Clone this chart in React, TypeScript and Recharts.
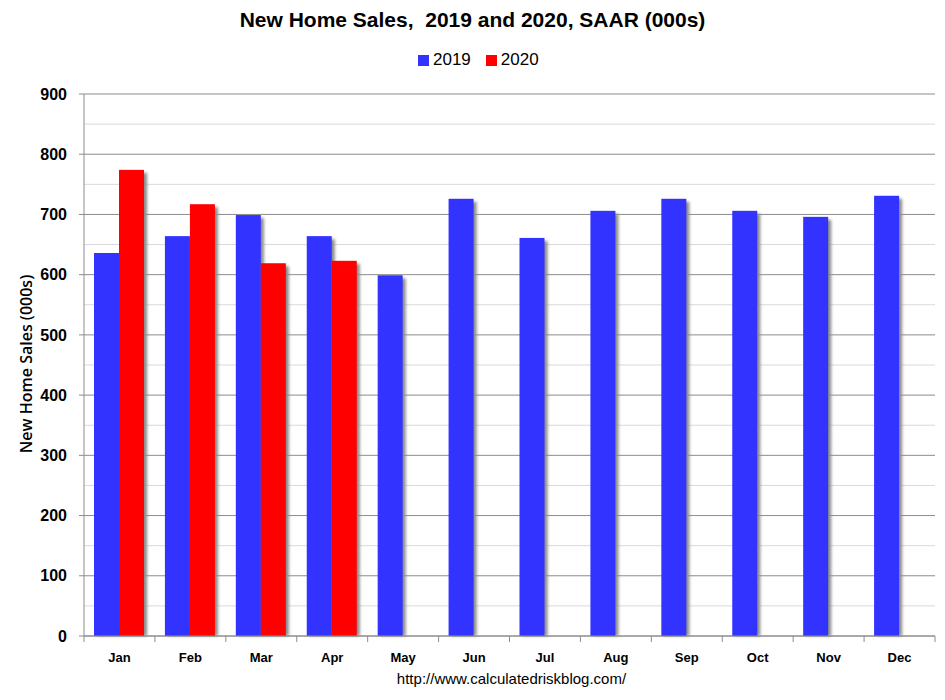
import React from 'react'
import { BarChart, Bar, XAxis, YAxis, CartesianGrid } from 'recharts'

// ---------------------------------------------------------------------------
// Data
// ---------------------------------------------------------------------------

const months = ['Jan', 'Feb', 'Mar', 'Apr', 'May', 'Jun', 'Jul', 'Aug', 'Sep', 'Oct', 'Nov', 'Dec']
const sales2019 = [636, 664, 699, 664, 599, 726, 661, 706, 726, 706, 696, 731]
const sales2020: (number | null)[] = [774, 717, 619, 623, null, null, null, null, null, null, null, null]
const majorTicks = [0, 100, 200, 300, 400, 500, 600, 700, 800, 900]
const minorTicks = [50, 150, 250, 350, 450, 550, 650, 750, 850]

const data = months.map((m, i) => ({ month: m, y2019: sales2019[i], y2020: sales2020[i] }))

// ---------------------------------------------------------------------------
// Layout
// ---------------------------------------------------------------------------

const W = 945
const H = 700
const PLOT_LEFT = 84
const PLOT_RIGHT = 935
const PLOT_TOP = 94
const PLOT_BOTTOM = 636
const X_AXIS_H = 40
const HALF_BAND = (PLOT_RIGHT - PLOT_LEFT) / months.length / 2

const BLUE = '#3333FF'
const RED = '#FF0000'
const GRID_MAJOR = '#8c8c8c'
const GRID_MINOR = '#d9d9d9'
const NARROW = '"Liberation Sans Narrow", "Liberation Sans", Arial, sans-serif'
const SANS = '"Liberation Sans", Arial, sans-serif'

// bar with the soft grey drop shadow to the right
function ShadowBar(props: any) {
  const { x, y, width, height, fill } = props
  if (height == null || !isFinite(height) || height <= 0) return null
  return (
    <g>
      <rect
        x={x + 3}
        y={y + 3}
        width={width}
        height={Math.max(0, height - 3)}
        fill="#8a8a8a"
        filter="url(#barShadow)"
      />
      <rect x={x} y={y} width={width} height={height} fill={fill} />
    </g>
  )
}

function MonthTick(props: any) {
  const { x, index, payload } = props
  const last = index === months.length - 1
  return (
    <g>
      <line x1={x - HALF_BAND} x2={x - HALF_BAND} y1={PLOT_BOTTOM} y2={PLOT_BOTTOM + 6} stroke={GRID_MAJOR} />
      {last && (
        <line x1={x + HALF_BAND} x2={x + HALF_BAND} y1={PLOT_BOTTOM} y2={PLOT_BOTTOM + 6} stroke={GRID_MAJOR} />
      )}
      <text
        x={x}
        y={PLOT_BOTTOM + 26}
        textAnchor="middle"
        fill="#000"
        style={{ fontFamily: SANS, fontSize: 13, fontWeight: 700 }}
      >
        {payload.value}
      </text>
    </g>
  )
}

export default function App() {
  return (
    <div
      style={{
        position: 'absolute',
        left: 0,
        top: 0,
        width: W,
        height: H,
        background: '#fff',
        overflow: 'hidden',
      }}
    >
      <div
        style={{
          position: 'absolute',
          top: 8,
          left: 0,
          width: W,
          textAlign: 'center',
          fontFamily: NARROW,
          fontWeight: 700,
          fontSize: 21,
          color: '#000',
          whiteSpace: 'pre',
        }}
      >
        {'New Home Sales,  2019 and 2020, SAAR (000s)'}
      </div>

      {/* legend */}
      <div
        style={{
          position: 'absolute',
          top: 50,
          left: 418,
          display: 'flex',
          alignItems: 'center',
          fontFamily: NARROW,
          fontSize: 17,
          color: '#000',
        }}
      >
        <span style={{ width: 11, height: 11, background: BLUE, display: 'inline-block', marginRight: 4 }} />
        <span style={{ marginRight: 15 }}>2019</span>
        <span style={{ width: 11, height: 11, background: RED, display: 'inline-block', marginRight: 4 }} />
        <span>2020</span>
      </div>

      <div
        style={{
          position: 'absolute',
          left: 26 - 120,
          top: 364 - 12,
          width: 240,
          height: 24,
          lineHeight: '24px',
          textAlign: 'center',
          transform: 'rotate(-90deg)',
          fontFamily: '"Open Sans", sans-serif',
          fontWeight: 600,
          fontSize: 16,
          color: '#000',
        }}
      >
        New Home Sales (000s)
      </div>

      <div
        style={{
          position: 'absolute',
          top: 670,
          left: 0,
          width: W + 78,
          textAlign: 'center',
          fontFamily: NARROW,
          fontSize: 15,
          color: '#000',
        }}
      >
        http://www.calculatedriskblog.com/
      </div>

      <div style={{ position: 'absolute', left: 0, top: 0 }}>
        <BarChart
          width={W}
          height={H}
          data={data}
          margin={{ top: PLOT_TOP, right: W - PLOT_RIGHT, bottom: H - PLOT_BOTTOM - X_AXIS_H, left: 0 }}
          barCategoryGap={10}
          barGap={0}
        >
          <defs>
            <filter id="barShadow" x="-50%" y="-10%" width="200%" height="120%">
              <feGaussianBlur stdDeviation="1.6" />
            </filter>
          </defs>
          <CartesianGrid vertical={false} horizontalValues={minorTicks} stroke={GRID_MINOR} strokeWidth={1} />
          <CartesianGrid vertical={false} horizontalValues={majorTicks} stroke={GRID_MAJOR} strokeWidth={1} />
          <XAxis
            dataKey="month"
            height={X_AXIS_H}
            axisLine={{ stroke: GRID_MAJOR }}
            tickLine={false}
            tick={<MonthTick />}
            interval={0}
          />
          <YAxis
            width={PLOT_LEFT}
            domain={[0, 900]}
            ticks={majorTicks}
            interval={0}
            axisLine={{ stroke: GRID_MAJOR }}
            tickLine={{ stroke: GRID_MAJOR }}
            tickSize={5}
            tickMargin={12}
            tick={{ fill: '#000', fontFamily: SANS, fontSize: 16, fontWeight: 700 }}
          />
          <Bar dataKey="y2019" name="2019" fill={BLUE} shape={<ShadowBar />} isAnimationActive={false} />
          <Bar dataKey="y2020" name="2020" fill={RED} shape={<ShadowBar />} isAnimationActive={false} />
        </BarChart>
      </div>
    </div>
  )
}
